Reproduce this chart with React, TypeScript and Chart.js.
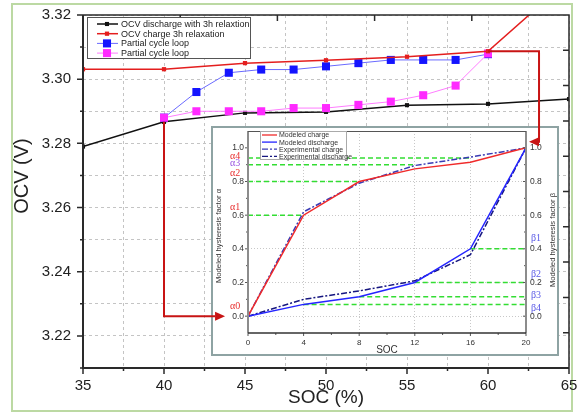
import React, { useEffect, useRef } from 'react';
import { Chart, registerables } from 'chart.js';

Chart.register(...registerables);

// ---------------- Main chart data ----------------
const dischargeSoc = [35, 40, 45, 50, 55, 60, 65];
const dischargeOcv = [3.279, 3.2867, 3.2895, 3.2898, 3.2919, 3.2923, 3.2938];
const chargeSoc = [35, 40, 45, 50, 55, 60, 65];
const chargeOcv = [3.3031, 3.3031, 3.305, 3.3059, 3.307, 3.3087, 3.331];
const loopSoc = [40, 42, 44, 46, 48, 50, 52, 54, 56, 58, 60];
const loopUpperOcv = [3.288, 3.296, 3.302, 3.303, 3.303, 3.304, 3.305, 3.306, 3.306, 3.306, 3.3078];
const loopLowerOcv = [3.288, 3.29, 3.29, 3.29, 3.291, 3.291, 3.292, 3.293, 3.295, 3.298, 3.308];
const mainLabels = [
  'OCV discharge with 3h relaxtion',
  'OCV charge 3h relaxation',
  'Partial cycle loop',
  'Partial cycle loop',
];

// ---------------- Inset data ----------------
const insetSoc = [0, 4, 8, 12, 16, 20];
const modeledCharge = [0, 0.6, 0.8, 0.875, 0.915, 1.0];
const modeledDischarge = [0, 0.07, 0.115, 0.2, 0.4, 1.0];
const experimentalCharge = [0, 0.62, 0.79, 0.895, 0.945, 1.0];
const experimentalDischarge = [0, 0.1, 0.15, 0.21, 0.365, 1.0];
const insetLabels = ['Modeled charge', 'Modeled discharge', 'Experimental charge', 'Experimental discharge'];
const alphaNames = ['α0', 'α1', 'α2', 'α3', 'α4'];
const alphaValues = [0, 0.6, 0.8, 0.9, 0.94];
const alphaSoc = [0, 4, 8, 12, 16];
const betaNames = ['β1', 'β2', 'β3', 'β4'];
const betaValues = [0.4, 0.2, 0.115, 0.07];
const betaSoc = [16, 12, 8, 4];

// ---------------- styles ----------------
const FONT = '"Liberation Sans", Arial, sans-serif';
const SERIF = '"Liberation Serif", "Times New Roman", serif';
const RED = '#e41e1e';
const ARROW_RED = '#c81414';
const GREEN = '#33dd33';
const alphaColors = ['#e83030', '#e83030', '#e83030', '#9a55e0', '#e83030'];
const BETA_COLOR = '#5a5ae6';
const alphaLabelLift = [10, 8, 8, 1, 2];
const betaLabelLift = [10, 8, 1, -4];

const INSET_LEFT = 213;
const INSET_TOP = 128;

const pts = (xs: number[], ys: number[]) => xs.map((x, i) => ({ x, y: ys[i] }));
const isMult = (v: number, m: number) => Math.abs(v / m - Math.round(v / m)) < 1e-6;
const noPad = (s: any) => { s.paddingTop = 0; s.paddingBottom = 0; s.paddingLeft = 0; s.paddingRight = 0; };

function drawTicks(ctx: any, a: any, scale: any, side: string, inward: boolean, len: (v: number) => number) {
  ctx.beginPath();
  for (const t of scale.ticks) {
    const L = len(t.value);
    if (!L) continue;
    const p = scale.getPixelForValue(t.value);
    if (side === 'left') { ctx.moveTo(a.left, p); ctx.lineTo(a.left + (inward ? L : -L), p); }
    if (side === 'right') { ctx.moveTo(a.right, p); ctx.lineTo(a.right + (inward ? -L : L), p); }
    if (side === 'bottom') { ctx.moveTo(p, a.bottom); ctx.lineTo(p, a.bottom + (inward ? -L : L)); }
    if (side === 'top') { ctx.moveTo(p, a.top); ctx.lineTo(p, a.top + (inward ? L : -L)); }
  }
  ctx.stroke();
}

const mainDecor = {
  id: 'mainDecor',
  afterDraw(chart: any) {
    const { ctx, chartArea: a, scales } = chart;
    ctx.save();
    ctx.setLineDash([]);
    ctx.strokeStyle = '#2a2a2a';
    ctx.lineWidth = 1.5;
    drawTicks(ctx, a, scales.x, 'bottom', false, (v) => (isMult(v, 5) ? 6 : 3));
    drawTicks(ctx, a, scales.y, 'left', false, (v) => (isMult(v, 0.02) ? 6 : 3));
    drawTicks(ctx, a, scales.xTop, 'top', true, (v) => (v > 0 && v < 5 ? 6 : 0));
    drawTicks(ctx, a, scales.yRight, 'right', true, (v) => (v > 0 && v < 10 ? 6 : 0));
    // frame
    ctx.lineWidth = 2;
    ctx.beginPath();
    ctx.moveTo(a.left, a.top);
    ctx.lineTo(a.left, a.bottom);
    ctx.lineTo(a.right, a.bottom);
    ctx.stroke();
    ctx.lineWidth = 1.5;
    ctx.beginPath();
    ctx.moveTo(a.left, a.top);
    ctx.lineTo(a.right, a.top);
    ctx.lineTo(a.right, a.bottom);
    ctx.stroke();

    // legend
    const bx = 87, by = 17, bw = 163, bh = 41;
    ctx.fillStyle = '#fff';
    ctx.fillRect(bx, by, bw, bh);
    ctx.strokeStyle = '#555';
    ctx.lineWidth = 1;
    ctx.strokeRect(bx + 0.5, by + 0.5, bw, bh);
    chart.data.datasets.forEach((ds: any, i: number) => {
      const y = 24 + i * 9.7;
      ctx.strokeStyle = ds.borderColor;
      ctx.lineWidth = ds.borderWidth;
      ctx.beginPath();
      ctx.moveTo(97, y);
      ctx.lineTo(118, y);
      ctx.stroke();
      const s = ds.pointRadius * Math.SQRT2;
      ctx.fillStyle = ds.pointBackgroundColor;
      ctx.fillRect(107 - s / 2, y - s / 2, s, s);
      ctx.fillStyle = '#222';
      ctx.font = `9px ${FONT}`;
      ctx.textAlign = 'left';
      ctx.textBaseline = 'middle';
      ctx.fillText(ds.label, 121, y + 0.5);
    });

    // y title
    ctx.font = `20px ${FONT}`;
    ctx.fillStyle = '#222';
    ctx.textAlign = 'center';
    ctx.textBaseline = 'middle';
    ctx.translate(22, 176);
    ctx.rotate(-Math.PI / 2);
    ctx.fillText('OCV (V)', 0, 0);
    ctx.restore();
  },
};

const insetDecor = {
  id: 'insetDecor',
  afterDraw(chart: any) {
    const { ctx, chartArea: a, scales } = chart;
    ctx.save();
    ctx.setLineDash([]);
    // ticks
    ctx.strokeStyle = '#555';
    ctx.lineWidth = 1;
    const yLen = (v: number) => (v < -0.05 || v > 1.05 ? 0 : isMult(v, 0.2) ? 3 : 2);
    drawTicks(ctx, a, scales.y, 'left', false, yLen);
    drawTicks(ctx, a, scales.y2, 'right', true, yLen);
    drawTicks(ctx, a, scales.x, 'bottom', false, (v) => (isMult(v, 4) ? 3 : 2));
    // frame
    ctx.strokeStyle = '#8c8c8c';
    ctx.lineWidth = 2;
    ctx.beginPath();
    ctx.moveTo(a.left, a.top);
    ctx.lineTo(a.left, a.bottom);
    ctx.moveTo(a.right, a.top);
    ctx.lineTo(a.right, a.bottom);
    ctx.stroke();
    ctx.strokeStyle = '#333';
    ctx.lineWidth = 1.5;
    ctx.beginPath();
    ctx.moveTo(a.left, a.bottom);
    ctx.lineTo(a.right, a.bottom);
    ctx.stroke();
    ctx.lineWidth = 1;
    ctx.strokeStyle = '#555';
    ctx.beginPath();
    ctx.moveTo(a.left, a.top + 0.5);
    ctx.lineTo(a.right, a.top + 0.5);
    ctx.stroke();

    // legend
    const lx = 47, ly = 3, lw = 86, lh = 28;
    ctx.fillStyle = '#fff';
    ctx.fillRect(lx, ly, lw, lh);
    ctx.strokeStyle = '#aaa';
    ctx.strokeRect(lx + 0.5, ly + 0.5, lw, lh);
    for (let i = 0; i < 4; i++) {
      const ds = chart.data.datasets[i];
      const y = 7 + i * 7.1;
      ctx.strokeStyle = ds.borderColor;
      ctx.lineWidth = 1.3;
      ctx.setLineDash(ds.borderDash || []);
      ctx.beginPath();
      ctx.moveTo(49, y);
      ctx.lineTo(64, y);
      ctx.stroke();
      ctx.setLineDash([]);
      ctx.fillStyle = '#333';
      ctx.font = `7px ${FONT}`;
      ctx.textAlign = 'left';
      ctx.textBaseline = 'middle';
      ctx.fillText(ds.label, 66, y + 0.5);
    }

    // alpha / beta labels
    ctx.font = `10px ${SERIF}`;
    ctx.textBaseline = 'middle';
    ctx.textAlign = 'left';
    alphaNames.forEach((n, i) => {
      ctx.fillStyle = alphaColors[i];
      ctx.fillText(n, 17, scales.y.getPixelForValue(alphaValues[i]) - alphaLabelLift[i]);
    });
    betaNames.forEach((n, i) => {
      ctx.fillStyle = BETA_COLOR;
      ctx.fillText(n, 318, scales.y.getPixelForValue(betaValues[i]) - betaLabelLift[i]);
    });

    // titles
    ctx.fillStyle = '#333';
    ctx.font = `10px ${FONT}`;
    ctx.textAlign = 'center';
    ctx.fillText('SOC', (a.left + a.right) / 2, 222);
    ctx.font = `7.7px ${FONT}`;
    ctx.save();
    ctx.translate(6, 108);
    ctx.rotate(-Math.PI / 2);
    ctx.fillText('Modeled hysteresis factor α', 0, 0);
    ctx.restore();
    ctx.save();
    ctx.translate(340, 112);
    ctx.rotate(-Math.PI / 2);
    ctx.fillText('Modeled hysteresis factor β', 0, 0);
    ctx.restore();
    ctx.restore();
  },
};

function drawArrow(ctx: any, path: number[][], color: string) {
  ctx.strokeStyle = color;
  ctx.fillStyle = color;
  ctx.lineWidth = 2;
  const n = path.length;
  const [tx, ty] = path[n - 1];
  const [px, py] = path[n - 2];
  const dx = tx - px, dy = ty - py;
  const d = Math.hypot(dx, dy);
  const ux = dx / d, uy = dy / d;
  const headL = 10, headW = 4.5;
  ctx.beginPath();
  ctx.moveTo(path[0][0], path[0][1]);
  for (let i = 1; i < n - 1; i++) ctx.lineTo(path[i][0], path[i][1]);
  ctx.lineTo(tx - ux * headL, ty - uy * headL);
  ctx.stroke();
  ctx.beginPath();
  ctx.moveTo(tx, ty);
  ctx.lineTo(tx - ux * headL - uy * headW, ty - uy * headL + ux * headW);
  ctx.lineTo(tx - ux * headL + uy * headW, ty - uy * headL - ux * headW);
  ctx.closePath();
  ctx.fill();
}

export default function App() {
  const mainRef = useRef<HTMLCanvasElement>(null);
  const insetRef = useRef<HTMLCanvasElement>(null);
  const overlayRef = useRef<HTMLCanvasElement>(null);

  useEffect(() => {
    const tickFontMain = { family: FONT, size: 15 };
    const main = new Chart(mainRef.current as HTMLCanvasElement, {
      type: 'line',
      data: {
        datasets: [
          {
            label: mainLabels[0], data: pts(dischargeSoc, dischargeOcv), borderColor: '#111', backgroundColor: '#111',
            pointBackgroundColor: '#111', borderWidth: 1.5, pointStyle: 'rect', pointRadius: 2.9, pointBorderWidth: 0, order: 3,
          },
          {
            label: mainLabels[1], data: pts(chargeSoc, chargeOcv), borderColor: RED, backgroundColor: RED,
            pointBackgroundColor: RED, borderWidth: 1.5, pointStyle: 'rect', pointRadius: 3, pointBorderWidth: 0, order: 0,
          },
          {
            label: mainLabels[2], data: pts(loopSoc, loopUpperOcv), borderColor: '#6a6aff', backgroundColor: '#1414ff',
            pointBackgroundColor: '#1414ff', borderWidth: 1, pointStyle: 'rect', pointRadius: 5.7, pointBorderWidth: 0, order: 2,
          },
          {
            label: mainLabels[3], data: pts(loopSoc, loopLowerOcv), borderColor: '#ff7dff', backgroundColor: '#ff2aff',
            pointBackgroundColor: '#ff2aff', borderWidth: 1, pointStyle: 'rect', pointRadius: 5.7, pointBorderWidth: 0, order: 1,
          },
        ] as any,
      },
      options: {
        responsive: false,
        animation: false,
        devicePixelRatio: 1,
        layout: { padding: { left: 0, right: 15, top: 15, bottom: 0 } },
        plugins: { legend: { display: false }, tooltip: { enabled: false } },
        elements: { line: { tension: 0 } },
        scales: {
          x: {
            type: 'linear', min: 35, max: 65,
            ticks: {
              stepSize: 2.5, autoSkip: false, maxRotation: 0, padding: 9, color: '#222', font: tickFontMain,
              callback: (v: any) => (isMult(v, 5) ? String(Math.round(v)) : ''),
            },
            grid: { color: '#c4c4c4', lineWidth: 1, drawTicks: false },
            border: { display: false, dash: [3, 3] },
            title: { display: true, text: 'SOC (%)', color: '#222', font: { family: FONT, size: 19, lineHeight: 1.2 }, padding: { top: 0, bottom: 4 } },
            afterFit: (s: any) => { s.height = 45; noPad(s); },
          },
          y: {
            type: 'linear', min: 3.21, max: 3.32,
            ticks: {
              stepSize: 0.01, autoSkip: false, padding: 12, color: '#222', font: tickFontMain,
              callback: (v: any) => { const k = Math.round(v * 100); return k % 2 === 0 ? (k / 100).toFixed(2) : ''; },
            },
            grid: { color: '#c4c4c4', lineWidth: 1, drawTicks: false },
            border: { display: false, dash: [3, 3] },
            afterFit: (s: any) => { s.width = 83; noPad(s); },
          },
          xTop: {
            type: 'linear', position: 'top', min: 0, max: 5,
            ticks: { display: false, stepSize: 1 }, grid: { display: false, drawTicks: false }, border: { display: false },
            afterFit: (s: any) => { s.height = 0; noPad(s); },
          },
          yRight: {
            type: 'linear', position: 'right', min: 0, max: 10,
            ticks: { display: false, stepSize: 1 }, grid: { display: false, drawTicks: false }, border: { display: false },
            afterFit: (s: any) => { s.width = 0; noPad(s); },
          },
        },
      } as any,
      plugins: [mainDecor],
    });

    const greenLines = [
      ...alphaValues.slice(1).map((v, i) => ({ data: [{ x: 0, y: v }, { x: alphaSoc[i + 1], y: v }] })),
      ...betaValues.map((v, i) => ({ data: [{ x: betaSoc[i], y: v }, { x: 20, y: v }] })),
    ].map((d) => ({
      ...d, label: '', borderColor: GREEN, borderDash: [5, 3], borderWidth: 1.5, pointRadius: 0, order: 10,
    }));

    const dashDot = [6, 2, 2, 2];
    const insetTickFont = { family: FONT, size: 8.5 };
    const yTickCb = (v: any) => { const k = Math.round(v * 10); return k % 2 === 0 && k >= 0 && k <= 10 ? (k / 10).toFixed(1) : ''; };
    const yGridColor = (c: any) => {
      const k = Math.round(c.tick.value * 10);
      return k % 2 === 0 && k >= 0 && k < 10 ? '#c8c8c8' : 'rgba(0,0,0,0)';
    };
    const inset = new Chart(insetRef.current as HTMLCanvasElement, {
      type: 'line',
      data: {
        datasets: [
          { label: insetLabels[0], data: pts(insetSoc, modeledCharge), borderColor: '#f02a2a', borderWidth: 1.5, pointRadius: 0, order: 0 },
          { label: insetLabels[1], data: pts(insetSoc, modeledDischarge), borderColor: '#2424ff', borderWidth: 1.5, pointRadius: 0, order: 2 },
          { label: insetLabels[2], data: pts(insetSoc, experimentalCharge), borderColor: '#3a3ab4', borderDash: dashDot, borderWidth: 1.5, pointRadius: 0, order: 1 },
          { label: insetLabels[3], data: pts(insetSoc, experimentalDischarge), borderColor: '#161680', borderDash: dashDot, borderWidth: 1.5, pointRadius: 0, order: 3 },
          ...greenLines,
        ] as any,
      },
      options: {
        responsive: false,
        animation: false,
        devicePixelRatio: 1,
        layout: { padding: { left: 0, right: 0, top: 3, bottom: 0 } },
        plugins: { legend: { display: false }, tooltip: { enabled: false } },
        elements: { line: { tension: 0 } },
        scales: {
          x: {
            type: 'linear', min: 0, max: 20,
            ticks: {
              stepSize: 2, autoSkip: false, maxRotation: 0, padding: 5, color: '#333', font: { family: FONT, size: 8 },
              callback: (v: any) => (isMult(v, 4) ? String(Math.round(v)) : ''),
            },
            grid: { drawTicks: false, color: (c: any) => (isMult(c.tick.value, 4) && c.tick.value > 0 && c.tick.value < 20 ? '#c8c8c8' : 'rgba(0,0,0,0)') },
            border: { display: false, dash: [1, 2] },
            afterFit: (s: any) => { s.height = 21; noPad(s); },
          },
          y: {
            type: 'linear', min: -0.1, max: 1.1,
            ticks: { stepSize: 0.1, autoSkip: false, padding: 4, color: '#333', font: insetTickFont, callback: yTickCb },
            grid: { drawTicks: false, color: yGridColor },
            border: { display: false, dash: [1, 2] },
            afterFit: (s: any) => { s.width = 35; noPad(s); },
          },
          y2: {
            type: 'linear', position: 'right', min: -0.1, max: 1.1,
            ticks: { stepSize: 0.1, autoSkip: false, padding: 4, color: '#333', font: insetTickFont, callback: yTickCb },
            grid: { display: false, drawTicks: false },
            border: { display: false },
            afterFit: (s: any) => { s.width = 31; noPad(s); },
          },
        },
      } as any,
      plugins: [insetDecor],
    });

    // arrows linking the main chart to the inset
    const octx = (overlayRef.current as HTMLCanvasElement).getContext('2d') as any;
    octx.clearRect(0, 0, 584, 413);
    const xs: any = main.scales.x, ys: any = main.scales.y;
    const iy: any = inset.scales.y;
    const zeroY = INSET_TOP + iy.getPixelForValue(0);
    drawArrow(octx, [
      [xs.getPixelForValue(dischargeSoc[1]), ys.getPixelForValue(dischargeOcv[1])],
      [xs.getPixelForValue(dischargeSoc[1]), zeroY],
      [xs.getPixelForValue(43.77), zeroY],
    ], ARROW_RED);
    drawArrow(octx, [
      [xs.getPixelForValue(chargeSoc[5]), ys.getPixelForValue(chargeOcv[5])],
      [xs.getPixelForValue(63.15), ys.getPixelForValue(chargeOcv[5])],
      [xs.getPixelForValue(63.15), ys.getPixelForValue(3.2805)],
      [xs.getPixelForValue(62.53), ys.getPixelForValue(3.2805)],
    ], ARROW_RED);

    return () => {
      main.destroy();
      inset.destroy();
    };
  }, []);

  return (
    <div style={{ position: 'absolute', left: 0, top: 0, width: 584, height: 413, background: '#fff', overflow: 'hidden' }}>
      <div style={{ position: 'absolute', left: 11, top: 3, width: 562, height: 409, border: '2px solid #bcd9a3', boxSizing: 'border-box' }} />
      <canvas ref={mainRef} width={584} height={413} style={{ position: 'absolute', left: 0, top: 0 }} />
      <div style={{ position: 'absolute', left: INSET_LEFT - 2, top: INSET_TOP - 2, width: 348, height: 230, border: '2px solid #8ea3a3', boxSizing: 'border-box', background: '#fff' }}>
        <canvas ref={insetRef} width={344} height={226} style={{ display: 'block' }} />
      </div>
      <canvas ref={overlayRef} width={584} height={413} style={{ position: 'absolute', left: 0, top: 0, pointerEvents: 'none' }} />
    </div>
  );
}
